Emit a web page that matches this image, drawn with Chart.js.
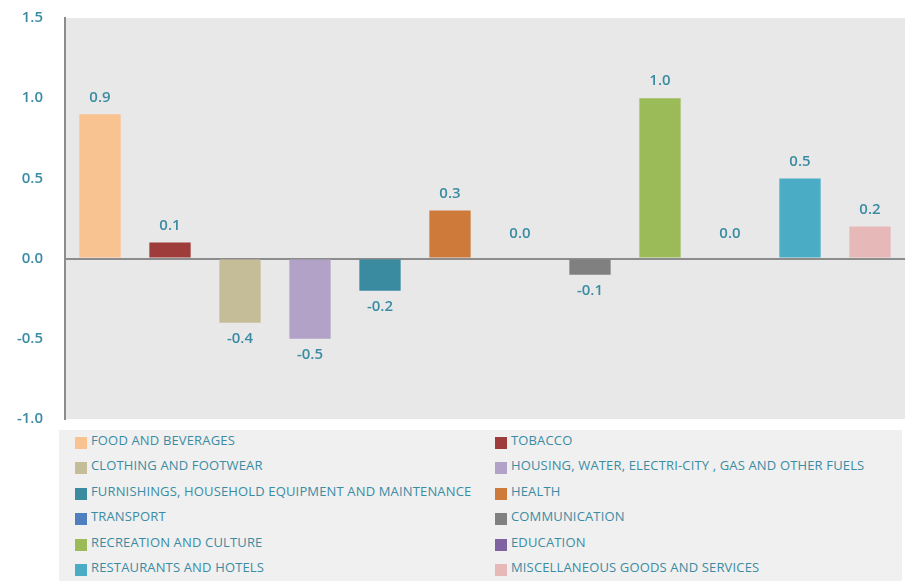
<!DOCTYPE html>
<html lang="en">
<head>
    <meta charset="UTF-8">
    <title>Price changes by category</title>
    <script src="https://cdn.jsdelivr.net/npm/chart.js"></script>
    <style>
        body { margin: 0; background: #fff; }
        #wrap { position: relative; width: 910px; height: 581px; }
        #legend {
            position: absolute; left: 59px; top: 430px; width: 843px; height: 151px;
            background: #f0f0f0;
            font-family: "Open Sans", "Noto Sans", sans-serif; font-size: 13px; letter-spacing: 0.15px; color: #3b8ca3;
        }
        .item { position: absolute; height: 14px; line-height: 14px; white-space: nowrap; }
        .box { position: absolute; left: 0; top: 1px; width: 12px; height: 12px; }
        .txt { position: absolute; left: 16px; top: -3px; }
    </style>
</head>
<body>
<div id="wrap">
    <canvas id="chart" width="910" height="425"></canvas>
    <div id="legend"></div>
</div>

<script>
    // data
    const categories = [
        'FOOD AND BEVERAGES', 'TOBACCO', 'CLOTHING AND FOOTWEAR',
        'HOUSING, WATER, ELECTRI-CITY , GAS AND OTHER FUELS',
        'FURNISHINGS, HOUSEHOLD EQUIPMENT AND MAINTENANCE', 'HEALTH', 'TRANSPORT',
        'COMMUNICATION', 'RECREATION AND CULTURE', 'EDUCATION',
        'RESTAURANTS AND HOTELS', 'MISCELLANEOUS GOODS AND SERVICES'
    ];
    const values = [0.9, 0.1, -0.4, -0.5, -0.2, 0.3, 0.0, -0.1, 1.0, 0.0, 0.5, 0.2];
    const colors = ['#f9c291', '#9e3b3b', '#c5bd98', '#b3a2c8', '#3a8aa0', '#cd7a3a',
                    '#4f7fbf', '#808080', '#9bbb59', '#7f62a2', '#4bacc6', '#e6b9b8'];
    const yTicks = [-1.0, -0.5, 0.0, 0.5, 1.0, 1.5];

    const teal = '#3b8ca3';

    // grey plot background
    const plotBg = {
        id: 'plotBg',
        beforeDraw(chart) {
            const { ctx, chartArea: a } = chart;
            ctx.save();
            ctx.fillStyle = '#e8e8e8';
            ctx.fillRect(a.left, a.top, a.right - a.left, a.bottom - a.top);
            ctx.restore();
        }
    };

    // value labels above / below bars
    const valueLabels = {
        id: 'valueLabels',
        afterDatasetsDraw(chart) {
            const { ctx } = chart;
            const meta = chart.getDatasetMeta(0);
            ctx.save();
            ctx.fillStyle = teal;
            ctx.font = '600 15px "Open Sans", sans-serif';
            ctx.textAlign = 'center';
            ctx.textBaseline = 'middle';
            meta.data.forEach((bar, i) => {
                const v = values[i];
                let y;
                if (v > 0) y = bar.y - 17;
                else if (v < 0) y = bar.y + 16;
                else y = bar.y - 25;
                ctx.fillText(v.toFixed(1), bar.x, y);
            });
            ctx.restore();
        }
    };

    new Chart(document.getElementById('chart'), {
        type: 'bar',
        data: {
            labels: categories,
            datasets: [{
                data: values,
                backgroundColor: colors,
                barPercentage: 0.59,
                categoryPercentage: 1.0
            }]
        },
        options: {
            responsive: false,
            animation: false,
            layout: { padding: { top: 18, right: 5, bottom: 6, left: 0 } },
            plugins: { legend: { display: false }, tooltip: { enabled: false } },
            scales: {
                x: { display: false },
                y: {
                    min: -1, max: 1.5,
                    afterBuildTicks: (s) => { s.ticks = yTicks.map(v => ({ value: v })); },
                    afterFit: (s) => { s.width = 65; s.paddingTop = 0; s.paddingBottom = 0; },
                    border: { display: true, color: '#8c8c8c', width: 2 },
                    grid: {
                        drawTicks: false,
                        color: (c) => c.tick && c.tick.value === 0 ? '#8c8c8c' : 'rgba(0,0,0,0)',
                        lineWidth: 2
                    },
                    ticks: {
                        padding: 22,
                        color: teal,
                        font: { family: '"Open Sans", sans-serif', size: 15, weight: '600' },
                        callback: (v) => Number(v).toFixed(1)
                    }
                }
            }
        },
        plugins: [plotBg, valueLabels]
    });

    // legend: two columns, row-major order
    const legend = document.getElementById('legend');
    categories.forEach((name, i) => {
        const col = i % 2, row = Math.floor(i / 2);
        const item = document.createElement('div');
        item.className = 'item';
        item.style.left = (col === 0 ? 16 : 436) + 'px';
        item.style.top = (6 + row * 25.4) + 'px';
        item.innerHTML = '<span class="box" style="background:' + colors[i] + '"></span><span class="txt"></span>';
        item.querySelector('.txt').textContent = name;
        legend.appendChild(item);
    });
</script>
</body>
</html>
